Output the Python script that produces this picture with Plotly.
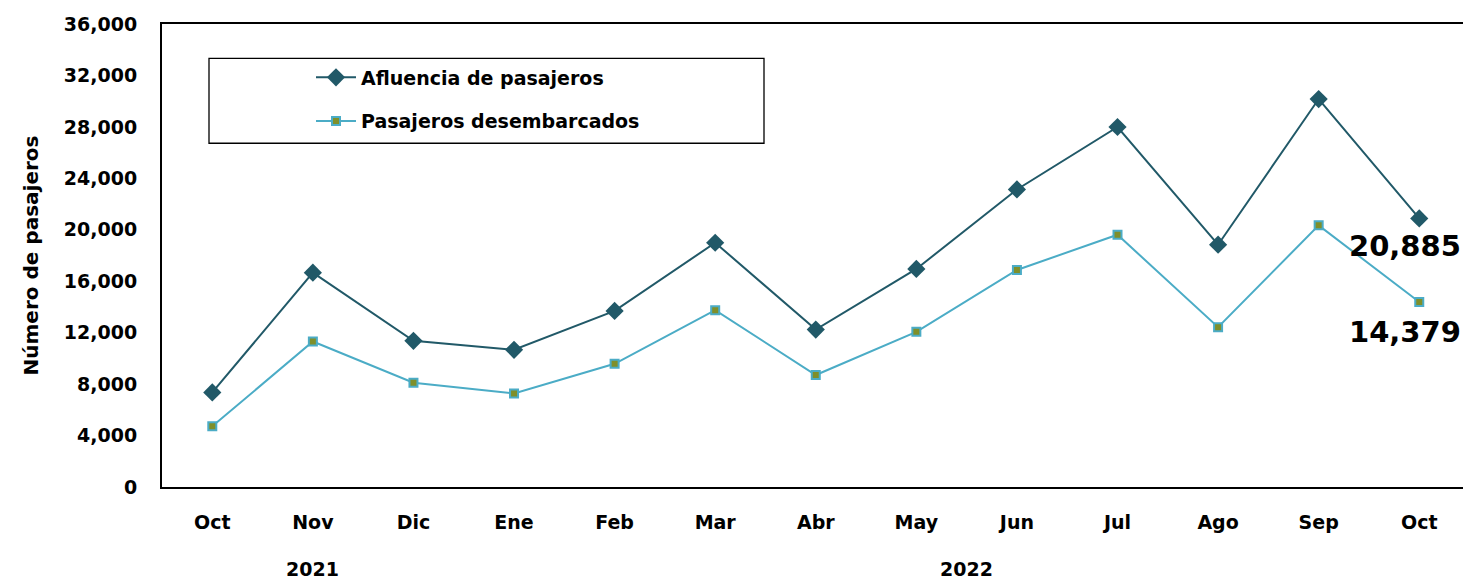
import plotly.graph_objects as go

meses = ["Oct", "Nov", "Dic", "Ene", "Feb", "Mar", "Abr", "May", "Jun", "Jul", "Ago", "Sep", "Oct"]
afluencia = [7355, 16666, 11366, 10668, 13694, 18993, 12243, 16953, 23136, 27993, 18838, 30165, 20885]
desembarcados = [4717, 11312, 8108, 7278, 9582, 13748, 8705, 12065, 16875, 19614, 12429, 20343, 14379]
anios = ["2021", "2022"]
anio_centro = [1, 7.5]
yticks = list(range(0, 36001, 4000))

FONT = "DejaVu Sans"
W, H = 1463, 580
ML, MR, MT = 162, 0, 23.5
MB = H - 487.5
pw, ph = W - ML - MR, H - MT - MB

def px(x):
    return (x - ML) / pw

def py(y):
    return 1 - (y - MT) / ph

xi = list(range(len(meses)))

fig = go.Figure()
fig.add_trace(go.Scatter(
    x=xi, y=afluencia, mode="lines+markers", name="Afluencia de pasajeros",
    legendgroup="a",
    line=dict(color="#215968", width=2),
    marker=dict(symbol="diamond", size=14, color="#215968"),
))
fig.add_trace(go.Scatter(
    x=xi, y=desembarcados, mode="lines+markers", name="Pasajeros desembarcados",
    legendgroup="b",
    line=dict(color="#4BACC6", width=2),
    marker=dict(symbol="square", size=8, color="#7F8F2A", line=dict(color="#4BACC6", width=2)),
))

bold = "bold"
annotations = []
for a, c in zip(anios, anio_centro):
    annotations.append(dict(x=c, xref="x", y=py(570), yref="paper", text=a, showarrow=False,
                            font=dict(family=FONT, size=19, color="black", weight=bold),
                            xanchor="center", yanchor="middle"))
annotations.append(dict(x=1, xref="paper", y=py(246), yref="paper",
                        text=f"{afluencia[-1]:,}", showarrow=False,
                        font=dict(family=FONT, size=29, color="black", weight=bold),
                        xanchor="right", yanchor="middle"))
annotations.append(dict(x=1, xref="paper", y=py(332), yref="paper",
                        text=f"{desembarcados[-1]:,}", showarrow=False,
                        font=dict(family=FONT, size=29, color="black", weight=bold),
                        xanchor="right", yanchor="middle"))

fig.update_layout(
    width=W, height=H,
    margin=dict(l=ML, r=MR, t=MT, b=MB),
    paper_bgcolor="white", plot_bgcolor="white",
    font=dict(family=FONT, size=19, color="black"),
    showlegend=True,
    legend=dict(x=px(311), y=py(58), xanchor="left", yanchor="top",
                bgcolor="rgba(0,0,0,0)", borderwidth=0,
                font=dict(family=FONT, size=19, color="black", weight=bold),
                tracegroupgap=16, itemwidth=40),
    shapes=[dict(type="rect", xref="paper", yref="paper",
                 x0=px(209), x1=px(764), y0=py(143), y1=py(58),
                 line=dict(color="black", width=1.3), fillcolor="rgba(0,0,0,0)", layer="above")],
    annotations=annotations,
    xaxis=dict(range=[-0.5, 12.435], tickmode="array", tickvals=xi, ticktext=meses,
               showline=True, linecolor="black", linewidth=2, mirror=True,
               showgrid=False, zeroline=False, ticks="",
               tickfont=dict(family=FONT, size=19, color="black", weight=bold),
               ticklabelstandoff=17),
    yaxis=dict(range=[0, 36000], tickmode="array", tickvals=yticks,
               ticktext=[f"{v:,}" for v in yticks],
               showline=True, linecolor="black", linewidth=2,
               showgrid=False, zeroline=False, ticks="",
               tickfont=dict(family=FONT, size=19, color="black", weight=bold),
               ticklabelstandoff=19,
               title=dict(text="Número de pasajeros", standoff=20,
                          font=dict(family=FONT, size=20, color="black", weight=bold))),
)

fig.write_html(
    "out.html",
    config={"displayModeBar": False},
    post_script="document.body.style.margin='0';document.body.style.overflow='hidden';",
)
